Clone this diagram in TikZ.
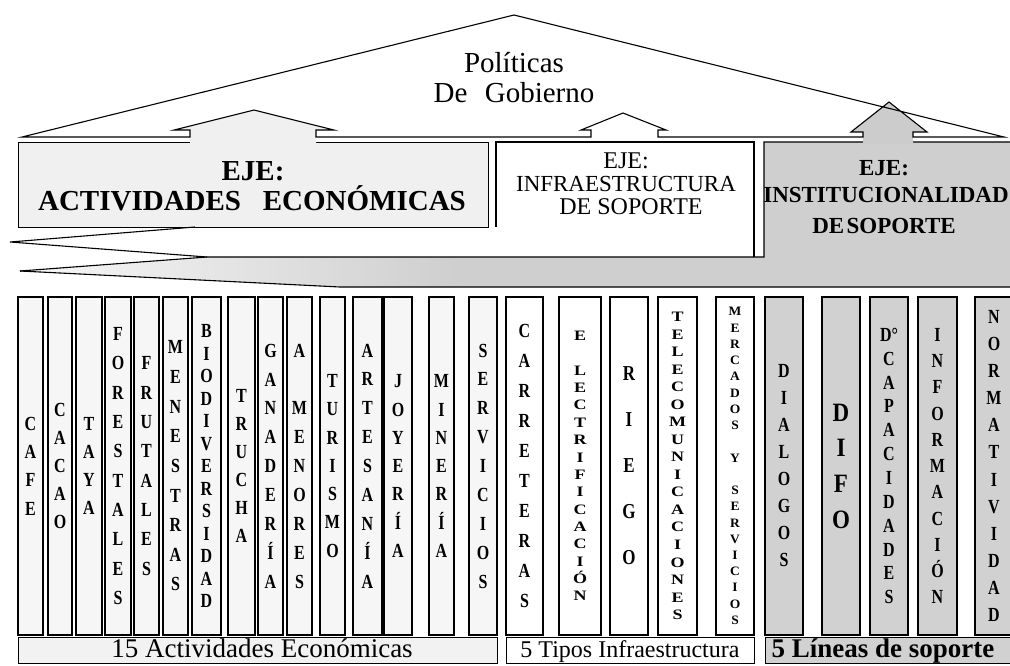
\documentclass[tikz,border=0pt]{standalone}
\usepackage{fontspec}
\setmainfont{Liberation Serif}
\usepackage{graphicx}
\newcommand\stk[4]{\scalebox{1}[#2]{\vbox{\fontsize{#1}{#3}\selectfont\bfseries\lineskiplimit=-100pt\lineskip=0pt\let\\\cr\halign{\hfil##\hfil\cr#4\crcr}}}}
\tikzset{
  ln/.style={draw=black, line width=1.1pt, line join=miter},
  col/.style={draw=black, line width=1.2pt, minimum height=338pt, inner sep=0pt},
  ga/.style={col, fill=gray!7},
  gb/.style={col, fill=white},
  gc/.style={col, fill=gray!36},
  lab/.style={draw=black, line width=1.1pt, minimum height=26pt, inner sep=0pt, anchor=north west},
  txt/.style={anchor=base, inner sep=0pt},
}
\begin{document}
\begin{tikzpicture}[x=1pt,y=-1pt]
\useasboundingbox (0,0) rectangle (1010,665);

% ---- boxes
\node[ln, fill=gray!12, anchor=north west, minimum width=470pt, minimum height=85pt, inner sep=0pt] (boxA) at (18,142) {};
\fill[white] (496,142) rectangle (754,257);
\draw[ln] (496,227) -- (496,142) -- (754,142) -- (754,257);
% gray band + right box
\fill[gray!38] (20,271) -- (207,257) -- (764,257) -- (764,142) -- (1015,142) -- (1015,287) -- (340,287) -- cycle;
\shade[left color=gray!6, right color=gray!38] (20,271) -- (207,257) -- (460,257) -- (460,287) -- (340,287) -- cycle;
\draw[ln] (20,271) -- (207,257) -- (764,257) -- (764,142) -- (1015,142);
\draw[ln] (20,271) -- (340,287) -- (1015,287);
% white wedge
\draw[ln] (195,227) -- (10,242) -- (207,257);

% ---- arrows and roof
\fill[gray!12] (190,143) -- (190,130) -- (174,130) -- (254,110) -- (334,130) -- (316,130) -- (316,143) -- cycle;
\fill[gray!40] (863,144) -- (863,132) -- (851,132) -- (889,102) -- (927,132) -- (913,132) -- (913,144) -- cycle;
\draw[ln] (22,137) -- (514,15) -- (1004,137) -- (913,137) -- (913,132) -- (927,132) -- (889,102) -- (851,132) -- (863,132) -- (863,137) -- (658,137) -- (658,130) -- (666,130) -- (623,113) -- (581,130) -- (591,130) -- (591,137) -- (316,137) -- (316,130) -- (334,130) -- (254,110) -- (174,130) -- (190,130) -- (190,137) -- cycle;

% ---- texts top
\node[txt, font=\fontsize{29}{29}\selectfont] (pol) at (514,72) {Políticas};
\node[txt, font=\fontsize{29}{29}\selectfont] (gob) at (514,102) {De\hspace{0.6em}Gobierno};
\node[txt, font=\fontsize{29}{29}\selectfont\bfseries] (a1) at (253,180) {EJE:};
\node[txt, font=\fontsize{29}{29}\selectfont\bfseries] (a2) at (252,210) {ACTIVIDADES\hspace{0.5em} ECONÓMICAS};
\node[txt, font=\fontsize{24}{24}\selectfont] (b1) at (626,168) {EJE:};
\node[txt, font=\fontsize{23}{23}\selectfont] (b2) at (626,191) {INFRAESTRUCTURA};
\node[txt, font=\fontsize{24}{24}\selectfont] (b3) at (631,214) {DE SOPORTE};
\node[txt, font=\fontsize{23}{23}\selectfont\bfseries] (d1) at (884,175) {EJE:};
\node[txt, font=\fontsize{23}{23}\selectfont\bfseries] (d2) at (886,202) {INSTITUCIONALIDAD};
\node[txt, font=\fontsize{23}{23}\selectfont\bfseries] (d3) at (884,233) {DE\hspace{0.1em}SOPORTE};

% ---- columns group 1
\node[ga, minimum width=25pt] (c1) at (30.5,466) {\stk{16}{1.25}{22.6}{C\\A\\F\\E}};
\node[ga, minimum width=24pt] (c2) at (60,466) {\stk{16}{1.25}{22.4}{C\\A\\C\\A\\O}};
\node[ga, minimum width=26pt] (c3) at (89,466) {\stk{16}{1.25}{22.6}{T\\A\\Y\\A}};
\node[ga, minimum width=26pt] (c4) at (118,466) {\stk{16}{1.25}{23.5}{F\\O\\R\\E\\S\\T\\A\\L\\E\\S}};
\node[ga, minimum width=25pt] (c5) at (146.5,466) {\stk{16}{1.25}{23.5}{F\\R\\U\\T\\A\\L\\E\\S}};
\node[ga, minimum width=25pt] (c6) at (175.5,466) {\stk{16}{1.25}{23.7}{M\\E\\N\\E\\S\\T\\R\\A\\S}};
\node[ga, minimum width=29pt] (c7) at (206.5,466) {\stk{16}{1.25}{18}{B\\I\\O\\D\\I\\V\\E\\R\\S\\I\\D\\A\\D}};
\node[ga, minimum width=27pt] (c8) at (241.5,466) {\stk{16}{1.25}{22.4}{T\\R\\U\\C\\H\\A}};
\node[ga, minimum width=25pt] (c9) at (270.5,466) {\stk{16}{1.25}{23.1}{G\\A\\N\\A\\D\\E\\R\\Í\\A}};
\node[ga, minimum width=25pt] (c10) at (299.5,466) {\stk{16}{1.25}{23.1}{A\\\\M\\E\\N\\O\\R\\E\\S}};
\node[ga, minimum width=25pt] (c11) at (332.5,466) {\stk{16}{1.25}{22.6}{T\\U\\R\\I\\S\\M\\O}};
\node[ga, minimum width=29pt] (c12) at (367.5,466) {\stk{16}{1.25}{23.1}{A\\R\\T\\E\\S\\A\\N\\Í\\A}};
\node[ga, minimum width=28pt] (c13) at (398,466) {\stk{16}{1.25}{22.6}{J\\O\\Y\\E\\R\\Í\\A}};
\node[ga, minimum width=25pt] (c14) at (441.5,466) {\stk{16}{1.25}{22.6}{M\\I\\N\\E\\R\\Í\\A}};
\node[ga, minimum width=28pt] (c15) at (483,466) {\stk{16}{1.25}{23.1}{S\\E\\R\\V\\I\\C\\I\\O\\S}};
% ---- group 2
\node[gb, minimum width=37pt] (c16) at (524.5,466) {\stk{16}{1.25}{24}{C\\A\\R\\R\\E\\T\\E\\R\\A\\S}};
\node[gb, minimum width=42pt] (c17) at (580,466) {\stk{18}{0.8}{21.7}{E\\\\L\\E\\C\\T\\R\\I\\F\\I\\C\\A\\C\\I\\Ó\\N}};
\node[gb, minimum width=38pt] (c18) at (629,466) {\stk{17}{1.25}{36.8}{R\\I\\E\\G\\O}};
\node[gb, minimum width=39pt] (c19) at (677.5,466) {\stk{18}{0.8}{21.9}{T\\E\\L\\E\\C\\O\\M\\U\\N\\I\\C\\A\\C\\I\\O\\N\\E\\S}};
\node[gb, minimum width=38pt] (c20) at (735,466) {\stk{13.5}{0.95}{17.1}{M\\E\\R\\C\\A\\D\\O\\S\\\\Y\\\\S\\E\\R\\V\\I\\C\\I\\O\\S}};
% ---- group 3
\node[gc, minimum width=38pt] (c21) at (784,466) {\stk{16}{1.25}{21.6}{D\\I\\A\\L\\O\\G\\O\\S}};
\node[gc, minimum width=38pt] (c22) at (841,466) {\stk{23}{1.15}{31}{D\\I\\F\\O}};
\node[gc, minimum width=38pt] (c23) at (889,466) {\stk{16}{1.25}{19.1}{D°\\C\\A\\P\\A\\C\\I\\D\\A\\D\\E\\S}};
\node[gc, minimum width=39pt] (c24) at (937.5,466) {\stk{16}{1.25}{21}{I\\N\\F\\O\\R\\M\\A\\C\\I\\Ó\\N}};
\node[gc, minimum width=38pt] (c25) at (994,466) {\stk{16}{1.25}{21.7}{N\\O\\R\\M\\A\\T\\I\\V\\I\\D\\A\\D}};

% ---- bottom labels
\node[lab, fill=gray!10, minimum width=479pt] (L1) at (18,637) {};
\node[lab, fill=white, minimum width=248pt] (L2) at (506,637) {};
\node[lab, fill=gray!36, minimum width=250pt] (L3) at (765,637) {};
\node[txt, font=\fontsize{27}{27}\selectfont] (l1) at (262,657) {15 Actividades Económicas};
\node[txt, font=\fontsize{24}{24}\selectfont] (l2) at (630,657) {5 Tipos Infraestructura};
\node[txt, font=\fontsize{27}{27}\selectfont\bfseries] (l3) at (883,657) {5 Líneas de soporte};
\end{tikzpicture}
\end{document}
